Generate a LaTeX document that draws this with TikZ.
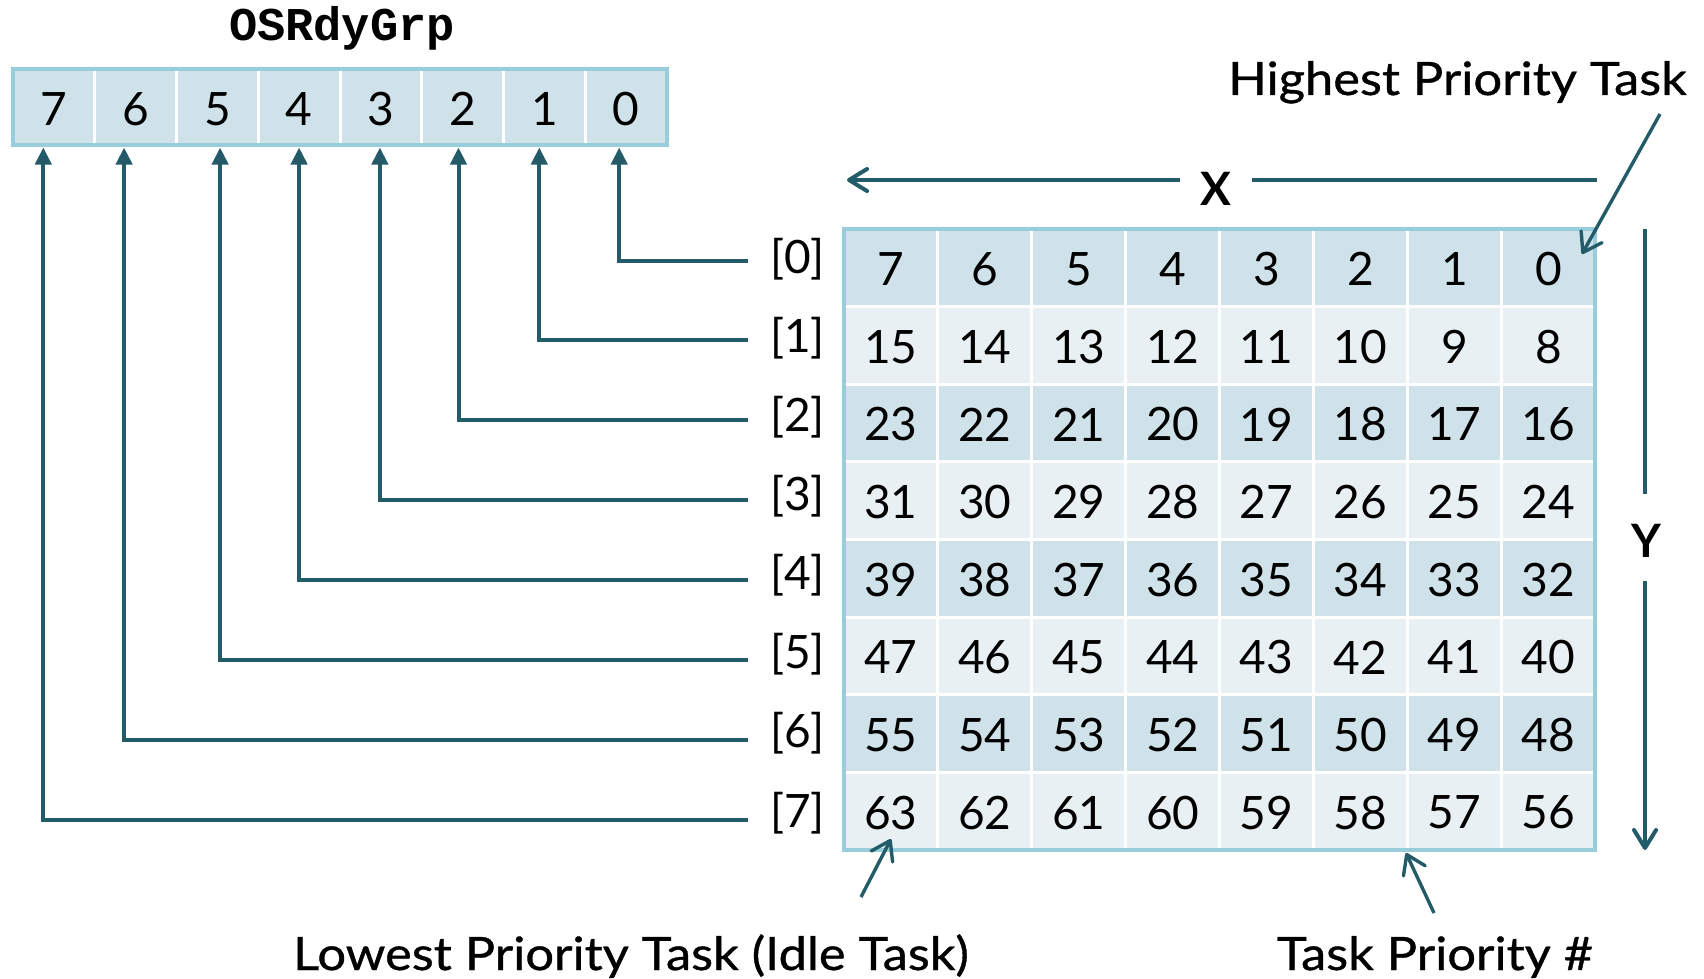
\documentclass[tikz,border=0pt]{standalone}
\usepackage{fontspec}
\setmainfont{Lato}
\newfontfamily\codefont{Liberation Mono}
\newfontfamily\calloutfont[FakeStretch=1.1,FakeBold=0.8]{Lato}
\usetikzlibrary{arrows.meta}
\definecolor{gridedge}{HTML}{98CDDC}
\definecolor{celldark}{HTML}{D0E2E9}
\definecolor{celllight}{HTML}{E8F0F3}
\definecolor{wire}{HTML}{245B69}
\begin{document}
\begin{tikzpicture}[x=1pt,y=-1pt,
  txt/.style={font=\fontsize{46}{50}\selectfont, inner sep=0pt, text=black},
  boldtxt/.style={txt, font=\fontsize{46}{50}\selectfont\bfseries},
  notetxt/.style={txt, font=\fontsize{46}{50}\selectfont\calloutfont},
  codetxt/.style={font=\fontsize{47}{50}\selectfont\codefont\bfseries, inner sep=0pt},
  divider/.style={white, line width=3pt},
  edge/.style={gridedge, line width=4pt},
  wireline/.style={wire, line width=4pt},
  bitarrow/.style={wireline, -{Triangle[length=17pt,width=16pt]}},
  axisarrow/.style={wireline, -{Straight Barb[length=18pt,width=22pt,line cap=round,line join=round]}},
  callout/.style={wire, line width=3.4pt, -{Straight Barb[length=18pt,width=24pt,line cap=round,line join=round]}}]
\useasboundingbox (0,0) rectangle (1704,979);

% ---- OSRdyGrp register ----
\node[codetxt, anchor=base] (grp) at (342,40.7) {OSRdyGrp};
\fill[celldark] (13,69) rectangle (667,145);
\foreach \i in {1,...,7}
  \draw[divider] (13+\i*81.75,69) -- (13+\i*81.75,145);
\draw[edge] (13,69) rectangle (667,145);
\foreach \i in {0,...,7}
  \node[txt] (b-\i) at (13+7*81.75-\i*81.75+40.9,109) {\i};

% ---- OSRdyTbl grid ----
\foreach \r in {0,...,7}{
  \pgfmathtruncatemacro\odd{mod(\r,2)}
  \ifnum\odd=0 \def\rowfill{celldark}\else\def\rowfill{celllight}\fi
  \fill[\rowfill] (844,228.7+\r*77.6625) rectangle (1595.3,228.7+\r*77.6625+77.6625);
}
\foreach \i in {1,...,7}{
  \draw[divider] (844+\i*93.9125,228.7) -- (844+\i*93.9125,850);
  \draw[divider] (844,228.7+\i*77.6625) -- (1595.3,228.7+\i*77.6625);
}
\draw[edge] (844,228.7) rectangle (1595.3,850);
\foreach \r in {0,...,7}{
  \foreach \c in {0,...,7}{
    \pgfmathtruncatemacro\n{8*\r+7-\c}
    \node[txt] (g-\r-\c) at (844+46.956+\c*93.9125,228.7+38.83+\r*77.6625+1.5) {\n};
  }
}

% ---- row labels and links to the group bits ----
\foreach \i/\tx in {0/619.2,1/539.3,2/458.5,3/379.9,4/299.1,5/220.1,6/124.1,7/43.3}{
  \coordinate (t-\i) at (\tx,147.5);
  \coordinate (s-\i) at (748,260.5+79.9*\i);
  \node[txt] (r-\i) at (797.5,259+79.1*\i) {[\i]};
  \draw[bitarrow] (s-\i) -| (t-\i);
}

% ---- X and Y axes ----
\node[boldtxt, anchor=base] (xl) at (1216,205) {X};
\coordinate (xa) at (1180,180);
\coordinate (xb) at (847,180);
\coordinate (xc) at (1252,180);
\coordinate (xd) at (1597,180);
\draw[axisarrow] (xa) -- (xb);
\draw[wireline] (xc) -- (xd);
\node[boldtxt, anchor=base] (yl) at (1646,557) {Y};
\coordinate (ya) at (1645,229);
\coordinate (yb) at (1645,494);
\coordinate (yc) at (1645,581);
\coordinate (yd) at (1645,850);
\draw[wireline] (ya) -- (yb);
\draw[axisarrow] (yc) -- (yd);

% ---- callouts ----
\node[notetxt, anchor=base] (hi) at (1457.5,95) {Highest Priority Task};
\coordinate (hi-s) at (1660,114);
\coordinate (hi-t) at (1582,254);
\draw[callout] (hi-s) -- (hi-t);

\node[notetxt, anchor=base] (lo) at (631,970) {Lowest Priority Task (Idle Task)};
\coordinate (lo-s) at (861,897);
\coordinate (lo-t) at (891,839);
\draw[callout] (lo-s) -- (lo-t);

\node[notetxt, anchor=base] (pn) at (1435,970) {Task Priority \#};
\coordinate (pn-s) at (1434,913);
\coordinate (pn-t) at (1406,853);
\draw[callout] (pn-s) -- (pn-t);
\end{tikzpicture}
\end{document}
